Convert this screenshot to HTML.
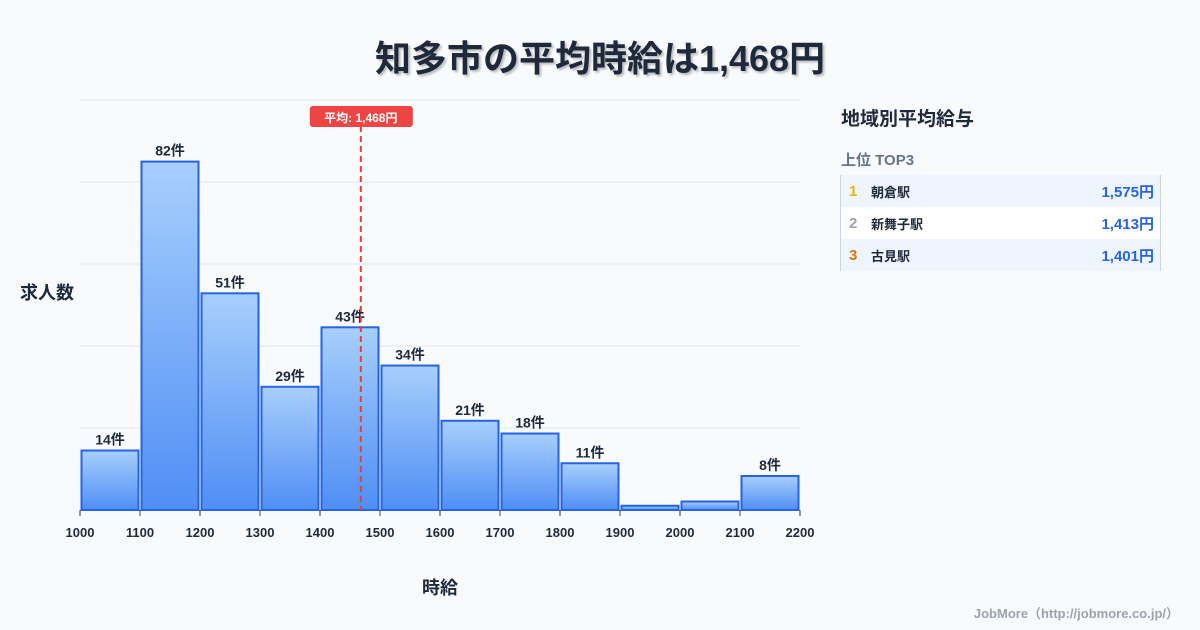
<!DOCTYPE html>
<html><head><meta charset="utf-8">
<style>
body{margin:0;width:1200px;height:630px;background:#f8fafc;font-family:"Liberation Sans","Noto Sans CJK JP",sans-serif;overflow:hidden;position:relative}
.t{position:absolute}
</style></head><body>
<div class="t" style="left:0;width:1200px;top:30px;text-align:center;font-size:36px;font-weight:bold;color:#1e293b;text-shadow:2px 2px 2px rgba(0,0,0,0.25)">知多市の平均時給は1,468円</div>
<svg id="chart" width="1200" height="630" style="position:absolute;left:0;top:0">
<defs><linearGradient id="g" x1="0" y1="0" x2="0" y2="1"><stop offset="0" stop-color="#a8cffc"/><stop offset="1" stop-color="#4f8ef5"/></linearGradient></defs>
</svg>
<div class="t" style="left:841px;top:104px;font-size:19px;font-weight:bold;color:#1e293b">地域別平均給与</div>
<div class="t" style="left:841px;top:149px;font-size:15px;font-weight:bold;color:#64748b">上位 TOP3</div>
<div class="t" style="left:840px;top:175px;width:319px;border-left:1px solid #cbd5e1;border-right:1px solid #cbd5e1;font-size:14px;font-weight:bold">
<div style="height:32px;background:#eef5ff;display:flex;align-items:center"><span style="width:22px;padding-left:8px;color:#eab308;font-size:15px">1</span><span style="flex:1;color:#1e293b;font-size:13px">朝倉駅</span><span style="color:#2563eb;font-size:15px;padding-right:6px">1,575円</span></div>
<div style="height:32px;background:#fff;display:flex;align-items:center"><span style="width:22px;padding-left:8px;color:#9ca3af;font-size:15px">2</span><span style="flex:1;color:#1e293b;font-size:13px">新舞子駅</span><span style="color:#2563eb;font-size:15px;padding-right:6px">1,413円</span></div>
<div style="height:32px;background:#eef5ff;display:flex;align-items:center"><span style="width:22px;padding-left:8px;color:#d97706;font-size:15px">3</span><span style="flex:1;color:#1e293b;font-size:13px">古見駅</span><span style="color:#2563eb;font-size:15px;padding-right:6px">1,401円</span></div>
</div>
<div class="t" style="right:21px;top:603px;font-size:13px;font-weight:bold;color:#9ca3af">JobMore（http://jobmore.co.jp/）</div>
<script>
const bins=[1000,1100,1200,1300,1400,1500,1600,1700,1800,1900,2000,2100];
const counts=[14,82,51,29,43,34,21,18,11,1,2,8];
const labels=["14件","82件","51件","29件","43件","34件","21件","18件","11件","","","8件"];
const ticks=[1000,1100,1200,1300,1400,1500,1600,1700,1800,1900,2000,2100,2200];
const avg=1468;
const yMax=96.5;
const svg=document.getElementById('chart');
const NS='http://www.w3.org/2000/svg';
const x=v=>80+(v-1000)/1200*720;
const y=v=>510-v/yMax*410;
function mk(t,a,txt){const e=document.createElementNS(NS,t);for(const k in a)e.setAttribute(k,a[k]);if(txt!==undefined)e.textContent=txt;svg.appendChild(e);return e;}
for(let i=0;i<=5;i++){const gl=mk('line',{x1:80,x2:800,y1:100+i*82,y2:100+i*82,stroke:'#e5e7eb','stroke-width':1});

}
bins.forEach((b,i)=>{
const x0=x(b)+1.5,x1=x(b+100)-1.5,yt=y(counts[i]);
const r=mk('rect',{x:x0,y:yt,width:x1-x0,height:510-yt,fill:'url(#g)',stroke:'#2563eb','stroke-width':2});


if(labels[i]){const t=mk('text',{x:(x0+x1)/2,y:yt-6,'text-anchor':'middle','font-size':14,'font-weight':'bold',fill:'#1e293b'},labels[i]);

}
});
ticks.forEach(v=>{
const tl=mk('line',{x1:x(v),x2:x(v),y1:510,y2:516,stroke:'#374151'});


const t=mk('text',{x:x(v),y:537,'text-anchor':'middle','font-size':13,'font-weight':'bold',fill:'#1e293b'},String(v));


});
const al=mk('line',{x1:x(avg),x2:x(avg),y1:126,y2:510,stroke:'#e0403a','stroke-width':2,'stroke-dasharray':'6,4'});


const ab=mk('rect',{x:x(avg)-51,y:106,width:103,height:21,rx:3,fill:'#ef4444'});


const at=mk('text',{x:x(avg),y:122,'text-anchor':'middle','font-size':12,'font-weight':'bold',fill:'#fff'},'平均: 1,468円');


const yt=mk('text',{x:20,y:299,'font-size':18,'font-weight':'bold',fill:'#1e293b'},'求人数');


const xt=mk('text',{x:440,y:594,'text-anchor':'middle','font-size':18,'font-weight':'bold',fill:'#1e293b'},'時給');


</script>
</body></html>
